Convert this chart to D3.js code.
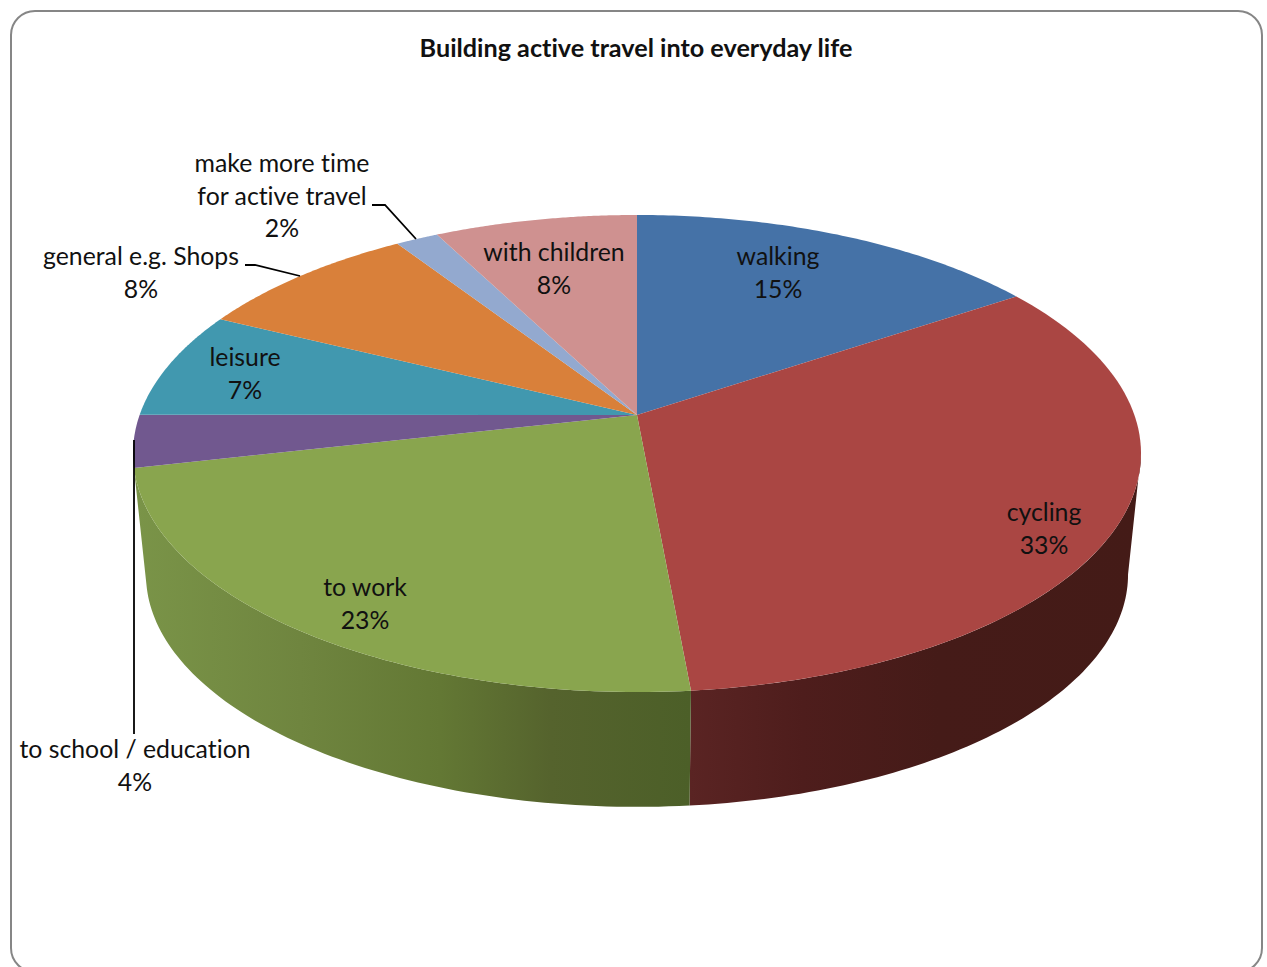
<!DOCTYPE html>
<html>
<head>
<meta charset="utf-8">
<title>Building active travel into everyday life</title>
<script src="https://cdn.jsdelivr.net/npm/d3@7"></script>
<style>
  html, body { margin: 0; padding: 0; background: #fff; overflow: hidden; }
  svg { display: block; }
  text { font-family: Lato, Carlito, sans-serif; fill: #111; font-variant-ligatures: none; }
</style>
</head>
<body>
<svg id="chart" width="1267" height="967"></svg>
<script>
const titleText = 'Building active travel into everyday life';

// Clockwise from 12 o'clock
const categories = ['walking', 'cycling', 'to work', 'to school / education', 'leisure', 'general e.g. Shops', 'make more time for active travel', 'with children'];
// Printed on the chart
const percentLabels = [15, 33, 23, 4, 7, 8, 2, 8];
// Slice widths as measured on the picture, the 3D view skews them a bit from the printed numbers
const sliceShares = [15.6, 32.9, 22.9, 3.55, 7.25, 8.5, 1.6, 7.6];
const sliceColors = ['#4572a7', '#aa4643', '#89a54e', '#71588f', '#4198af', '#d9803a', '#93a9cf', '#cf9190'];

const svg = d3.select('#chart');

// Perspective of the disc: u runs left to right, v runs back to front
const perspective = 0.1614;
const topDisc = { x: 637, y: 415, a: 497.4, b: 232.3 };
const bottomDisc = { x: 637, y: 537, a: 484.6, b: 226.3 };

const project = (disc, angle) => {
  const u = Math.sin(angle);
  const v = -Math.cos(angle);
  const w = 1 - perspective * v;
  return [disc.x + (disc.a * u) / w, disc.y + (disc.b * v) / w];
};

const rimPoints = (disc, from, to) =>
  d3.range(0, 81).map((i) => project(disc, from + ((to - from) * i) / 80));

const line = d3.line();
const slices = d3.pie().sort(null).value((d) => d)(sliceShares);

// Frame, runs off the bottom of the page
svg.append('rect')
  .attr('x', 11)
  .attr('y', 11)
  .attr('width', 1251)
  .attr('height', 961)
  .attr('rx', 24)
  .attr('fill', '#fff')
  .attr('stroke', '#868686')
  .attr('stroke-width', 2);

svg.append('text')
  .attr('x', 636)
  .attr('y', 57)
  .attr('text-anchor', 'middle')
  .attr('font-size', 25.2)
  .attr('font-weight', 700)
  .text(titleText);

// Wall shading
const defs = svg.append('defs');
const wallGradient = (id, x1, x2, stops) => {
  const grad = defs.append('linearGradient')
    .attr('id', id)
    .attr('gradientUnits', 'userSpaceOnUse')
    .attr('x1', x1)
    .attr('x2', x2)
    .attr('y1', 0)
    .attr('y2', 0);
  stops.forEach(([offset, color]) => {
    grad.append('stop').attr('offset', offset).attr('stop-color', color);
  });
};
wallGradient('wall-cycling', 690, 1141, [[0, '#5a2423'], [0.25, '#4e1d1c'], [0.55, '#451b18'], [1, '#441b17']]);
wallGradient('wall-work', 134, 690, [[0, '#7a9448'], [0.3, '#6f853f'], [0.55, '#637834'], [0.75, '#55632d'], [1, '#4c5f28']]);

// Only cycling and to work show a wall. The wall starts where the rim turns
// away from the viewer, so the right edge stays a straight tangent
const silhouette = Math.acos(-perspective);
[[1, 'wall-cycling'], [2, 'wall-work']].forEach(([i, id]) => {
  const s = slices[i];
  const from = Math.max(s.startAngle, silhouette);
  const outline = rimPoints(topDisc, from, s.endAngle)
    .concat(rimPoints(bottomDisc, s.endAngle, from));
  svg.append('path')
    .attr('d', `${line(outline)}Z`)
    .attr('fill', `url(#${id})`);
});

// Top of the disc
svg.append('g')
  .selectAll('path')
  .data(slices)
  .join('path')
  .attr('d', (d) => `${line([[topDisc.x, topDisc.y], ...rimPoints(topDisc, d.startAngle, d.endAngle)])}Z`)
  .attr('fill', (d, i) => sliceColors[i]);

// Leader lines
const leaders = [
  [[372, 205], [385, 205], [416, 239]],
  [[245, 265], [255, 265], [300, 276]],
  [[134, 440], [134, 734]],
];
svg.append('g')
  .selectAll('path')
  .data(leaders)
  .join('path')
  .attr('d', line)
  .attr('fill', 'none')
  .attr('stroke', '#000')
  .attr('stroke-width', 1.8);

// Where each label goes, x centre and first baseline, in category order
const labelLines = [
  [categories[0]],
  [categories[1]],
  [categories[2]],
  [categories[3]],
  [categories[4]],
  [categories[5]],
  ['make more time', 'for active travel'],
  [categories[7]],
];
const labelPlaces = [[778, 265], [1044, 521], [365, 596], [135, 758], [245, 366], [141, 265], [282, 172], [554, 261]];

categories.forEach((name, i) => {
  const text = svg.append('text')
    .attr('text-anchor', 'middle')
    .attr('font-size', 24.8);
  labelLines[i].concat(`${percentLabels[i]}%`).forEach((str, j) => {
    text.append('tspan')
      .attr('x', labelPlaces[i][0])
      .attr('y', labelPlaces[i][1] + j * 32.6)
      .text(str);
  });
});
</script>
</body>
</html>
